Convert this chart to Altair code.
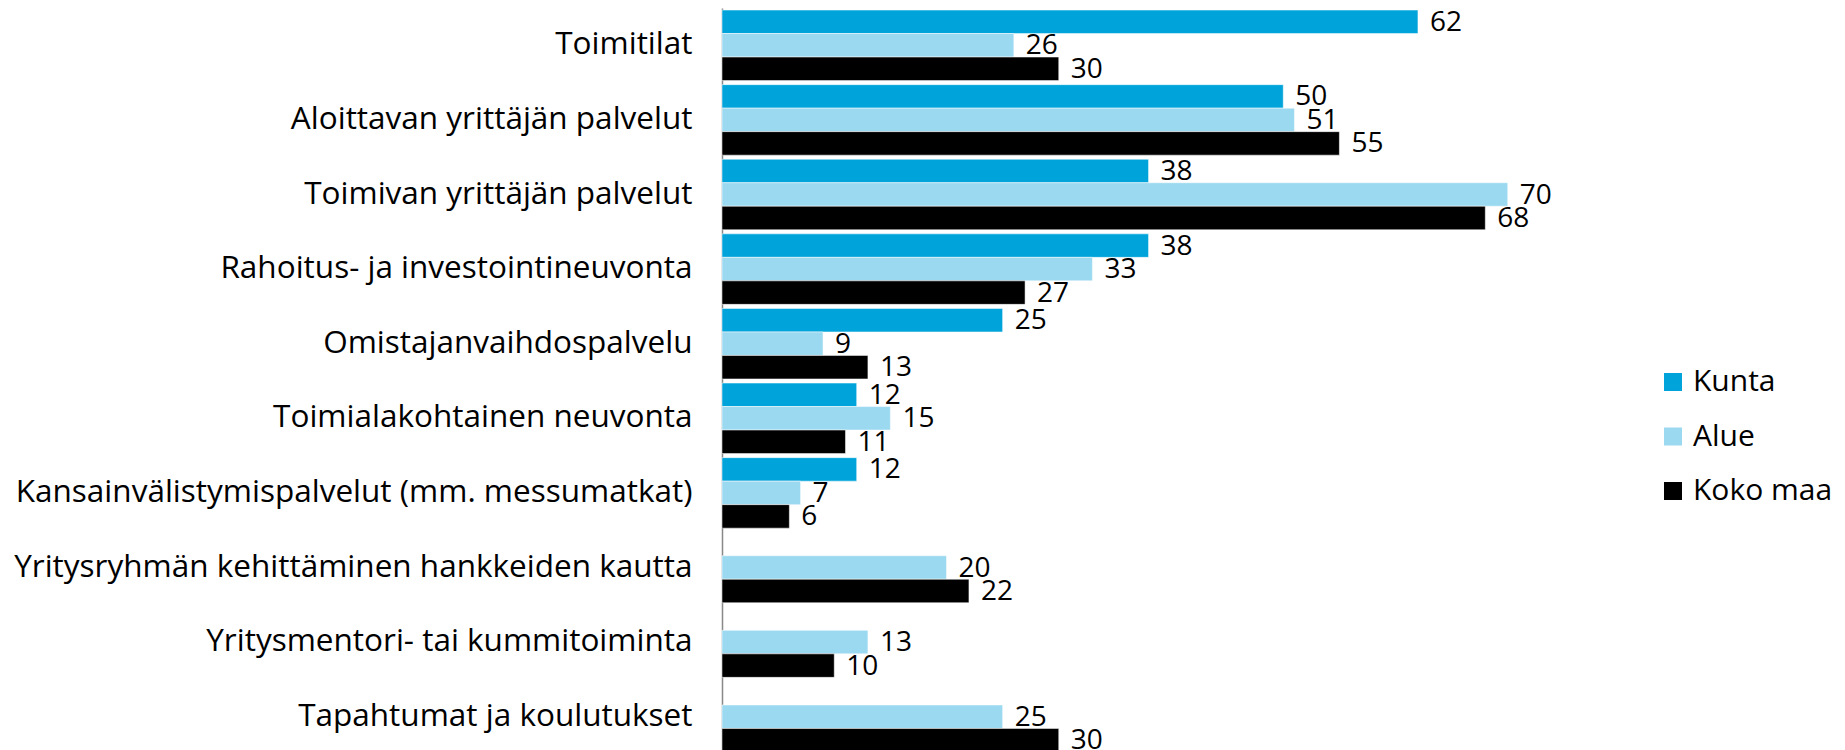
import altair as alt
import pandas as pd

categories = [
    "Toimitilat",
    "Aloittavan yrittäjän palvelut",
    "Toimivan yrittäjän palvelut",
    "Rahoitus- ja investointineuvonta",
    "Omistajanvaihdospalvelu",
    "Toimialakohtainen neuvonta",
    "Kansainvälistymispalvelut (mm. messumatkat)",
    "Yritysryhmän kehittäminen hankkeiden kautta",
    "Yritysmentori- tai kummitoiminta",
    "Tapahtumat ja koulutukset",
]
series = ["Kunta", "Alue", "Koko maa"]
kunta = [62, 50, 38, 38, 25, 12, 12, None, None, None]
alue = [26, 51, 70, 33, 9, 15, 7, 20, 13, 25]
koko_maa = [30, 55, 68, 27, 13, 11, 6, 22, 10, 30]
colors = ["#00A3DA", "#9BD9F0", "#000000"]

rows = []
for s, vals in zip(series, [kunta, alue, koko_maa]):
    for c, v in zip(categories, vals):
        if v is not None:
            rows.append({"category": c, "series": s, "value": v})
df = pd.DataFrame(rows)

FONT = "Open Sans"

y_enc = alt.Y(
    "category:N",
    sort=categories,
    scale=alt.Scale(range=[0, 746], paddingInner=0.055, paddingOuter=0.0275),
    axis=alt.Axis(
        title=None,
        ticks=False,
        labelFontSize=31.5,
        labelFont=FONT,
        labelColor="#000000",
        labelPadding=30,
        labelLimit=1000,
        domainColor="#888888",
        domainWidth=1.5,
    ),
)
yoff_enc = alt.YOffset(
    "series:N",
    sort=series,
    scale=alt.Scale(domain=series, paddingInner=0, paddingOuter=0),
)
x_enc = alt.X("value:Q", scale=alt.Scale(domain=[0, 80], nice=False), axis=None)

bars = alt.Chart(df).mark_bar(stroke="white", strokeWidth=0.5).encode(
    y=y_enc,
    yOffset=yoff_enc,
    x=x_enc,
    color=alt.Color(
        "series:N",
        sort=series,
        scale=alt.Scale(domain=series, range=colors),
        legend=alt.Legend(
            title=None,
            orient="none",
            legendX=936,
            legendY=359,
            symbolType="square",
            symbolSize=324,
            symbolStrokeWidth=0,
            labelFontSize=30,
            labelFont=FONT,
            labelColor="#000000",
            labelOffset=5,
            rowPadding=24.5,
        ),
    ),
)

labels = alt.Chart(df).mark_text(
    align="left", baseline="middle", dx=12, dy=1, fontSize=28, font=FONT, color="#000000"
).encode(
    y=alt.Y("category:N", sort=categories),
    yOffset=alt.YOffset("series:N", sort=series),
    x=alt.X("value:Q"),
    text=alt.Text("value:Q"),
)

chart = (
    alt.layer(bars, labels)
    .properties(
        width=898,
        height=742,
        autosize=alt.AutoSizeParams(type="none"),
        padding={"left": 714, "top": 0, "right": 215, "bottom": 0},
    )
    .configure_view(stroke=None)
)

chart.save("out.html", embed_options={"renderer": "svg", "actions": False})
